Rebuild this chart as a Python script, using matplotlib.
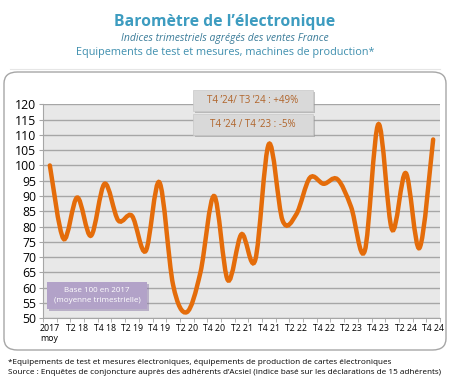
import matplotlib
matplotlib.use("Agg")
import matplotlib.pyplot as plt
import numpy as np
from matplotlib.path import Path
from matplotlib.patches import PathPatch, FancyBboxPatch, Rectangle

# quarterly index values, base 100 = 2017 quarterly average
quarters = ["2017\nmoy",
            "T1 18", "T2 18", "T3 18", "T4 18",
            "T1 19", "T2 19", "T3 19", "T4 19",
            "T1 20", "T2 20", "T3 20", "T4 20",
            "T1 21", "T2 21", "T3 21", "T4 21",
            "T1 22", "T2 22", "T3 22", "T4 22",
            "T1 23", "T2 23", "T3 23", "T4 23",
            "T1 24", "T2 24", "T3 24", "T4 24"]
index_values = [100, 76, 89.5, 77, 94,
                82, 83.5, 72, 94.5,
                61, 52, 65, 90,
                62.5, 77.5, 69, 107,
                82, 84, 96, 94,
                95.5, 86.5, 72, 113.5,
                79, 97.5, 73, 108.5]
yticks = list(range(50, 121, 5))
notes = ["T4 \u201924/ T3 \u201924 : +49%", "T4 \u201924 / T4 \u201923 : -5%"]

ORANGE = "#e46c0a"
TEAL = "#3d9cc0"


def smooth_path(xs, ys, tension=1 / 6):
    # Catmull-Rom style bezier, like the "smoothed line" option of a spreadsheet
    pts = np.column_stack([xs, ys]).astype(float)
    verts = [pts[0]]
    codes = [Path.MOVETO]
    n = len(pts)
    for i in range(n - 1):
        p0 = pts[max(i - 1, 0)]
        p1 = pts[i]
        p2 = pts[i + 1]
        p3 = pts[min(i + 2, n - 1)]
        c1 = p1 + (p2 - p0) * tension
        c2 = p2 - (p3 - p1) * tension
        verts += [c1, c2, p2]
        codes += [Path.CURVE4] * 3
    return Path(verts, codes)


fig = plt.figure(figsize=(4.5, 3.84), dpi=100)
fig.patch.set_facecolor("white")

# rounded frame around the chart
frame = FancyBboxPatch((4 / 450, 1 - 350 / 384), 442 / 450, 278 / 384,
                       boxstyle="round,pad=0,rounding_size=0.03",
                       transform=fig.transFigure, facecolor="white",
                       edgecolor="#a6a6a6", linewidth=1.0, zorder=-5)
fig.patches.append(frame)
fig.add_artist(plt.Line2D([10 / 450, 440 / 450], [1 - 69 / 384] * 2,
                          color="#e6e6e6", linewidth=0.8, zorder=-5))

fig.text(0.5, 1 - 22 / 384, "Barom\u00e8tre de l\u2019\u00e9lectronique",
         ha="center", va="center", fontsize=11.3, fontweight="bold",
         color=TEAL, family="Open Sans")
fig.text(0.5, 1 - 39 / 384, "Indices trimestriels agr\u00e9g\u00e9s des ventes France",
         ha="center", va="center", fontsize=7.5, style="italic",
         color="#3b7c99", family="Open Sans")
fig.text(0.5, 1 - 53 / 384, "Equipements de test et mesures, machines de production*",
         ha="center", va="center", fontsize=7.8, color="#3f8fae",
         family="Open Sans")

ax = fig.add_axes([43 / 450, 1 - 318.3 / 384, 397 / 450, 214 / 384], zorder=1)
ax.set_facecolor("#e8e8e8")
x = np.arange(len(index_values))
ax.set_xlim(-0.5, len(index_values) - 0.5)
ax.set_ylim(50, 120)
ax.set_yticks(yticks)
ax.set_yticklabels([str(v) for v in yticks], fontsize=8.8, family="Open Sans")
ax.yaxis.grid(True, color="#a6a6a6", linewidth=1.0)
ax.set_axisbelow(True)

ax.set_xticks(x[::2])
ax.set_xticklabels(quarters[::2], fontsize=6.3, family="Open Sans",
                   multialignment="left")
ax.set_xticks(np.arange(-0.5, len(index_values), 1), minor=True)
ax.tick_params(axis="x", which="major", length=0, pad=4)
ax.tick_params(axis="x", which="minor", length=3, color="#a6a6a6")
ax.tick_params(axis="y", length=3, color="#a6a6a6", pad=2)

for side in ["top", "right"]:
    ax.spines[side].set_visible(False)
for side in ["left", "bottom"]:
    ax.spines[side].set_color("#a6a6a6")

curve = PathPatch(smooth_path(x, index_values), facecolor="none",
                  edgecolor=ORANGE, linewidth=3.2, capstyle="round",
                  transform=ax.transData, zorder=3)
ax.add_patch(curve)

# comparison boxes with a soft shadow
for k, txt in enumerate(notes):
    top = 90 + k * 24
    x0, w, h = 193, 120, 21
    fig.patches.append(Rectangle(((x0 + 2) / 450, 1 - (top + h + 2) / 384),
                                 w / 450, h / 384, transform=fig.transFigure,
                                 facecolor="#9a9a9a", edgecolor="none",
                                 alpha=0.6, zorder=4))
    fig.patches.append(Rectangle((x0 / 450, 1 - (top + h) / 384),
                                 w / 450, h / 384, transform=fig.transFigure,
                                 facecolor="#d9d9d9", edgecolor="#c8c8c8",
                                 linewidth=0.5, zorder=5))
    fig.text((x0 + w / 2) / 450, 1 - (top + h / 2) / 384, txt,
             ha="center", va="center", fontsize=7, color="#b0642a",
             family="Open Sans", zorder=6)

# base note
fig.patches.append(Rectangle((49 / 450, 1 - 311 / 384), 100 / 450, 27 / 384,
                             transform=fig.transFigure, facecolor="#8c7aa8",
                             edgecolor="none", alpha=0.5, zorder=4))
fig.patches.append(Rectangle((47 / 450, 1 - 309 / 384), 100 / 450, 27 / 384,
                             transform=fig.transFigure, facecolor="#b2a2c8",
                             edgecolor="none", zorder=5))
fig.text(97 / 450, 1 - 295.5 / 384, "Base 100 en 2017\n(moyenne trimestrielle)",
         ha="center", va="center", fontsize=5.8, color="white",
         family="Open Sans", linespacing=1.4, zorder=6)

fig.text(8 / 450, 1 - 362 / 384,
         "*Equipements de test et mesures \u00e9lectroniques, \u00e9quipements de production de cartes \u00e9lectroniques",
         ha="left", va="center", fontsize=5.9, family="Open Sans")
fig.text(8 / 450, 1 - 373 / 384,
         "Source : Enqu\u00eates de conjoncture aupr\u00e8s des adh\u00e9rents d\u2019Acsiel (indice bas\u00e9 sur les d\u00e9clarations de 15 adh\u00e9rents)",
         ha="left", va="center", fontsize=5.9, family="Open Sans")

fig.savefig("out.png", dpi=100)
